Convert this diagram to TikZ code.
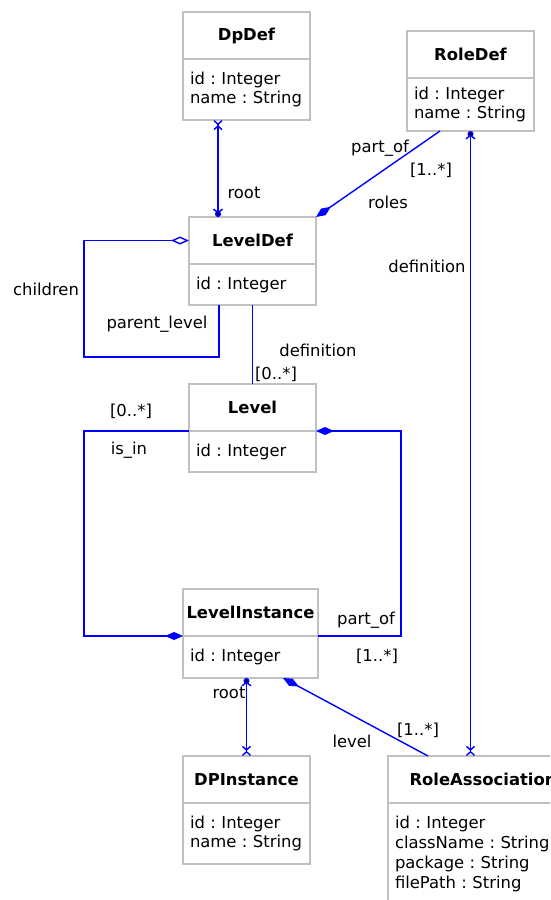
\documentclass[tikz,border=0pt]{standalone}
\usepackage{fontspec}
\setmainfont{DejaVu Sans}
\usetikzlibrary{positioning,arrows.meta,calc}

\definecolor{boxgray}{RGB}{192,192,192}
\newcommand{\umlfont}{\fontsize{16.4}{19.8}\selectfont\frenchspacing}

\tikzset{
  classname/.style={draw=boxgray, line width=1.2pt, outer sep=0pt, minimum width=127pt,
    minimum height=47pt, inner sep=0pt, font=\umlfont\bfseries},
  classattr/.style={draw=boxgray, line width=1.2pt, outer sep=0pt, text width=113pt,
    inner xsep=7pt, inner ysep=0pt, align=left, font=\umlfont},
  assoc/.style={draw=blue, line width=1.4pt},
  lbl/.style={inner sep=0pt, font=\umlfont},
  navx/.tip={Straight Barb[length=3.5pt,width=8pt,sep=0pt] Straight Barb[reversed,length=3.5pt,width=8pt]},
  owner/.tip={Straight Barb[length=3.5pt,width=9pt,sep=-2.5pt] Circle[length=6pt,fill=black]},
  comp/.tip={Diamond[length=18pt,width=8pt]},
  aggr/.tip={Diamond[open,length=18pt,width=8pt,fill=white]},
}

\begin{document}
\begin{tikzpicture}[x=1pt,y=-1pt]
\useasboundingbox (0,0) rectangle (550,900);
\clip (0,0) rectangle (550,900);

% classes
\node[classname] (dpdef) at (246.5,35.5) {DpDef};
\node[classattr, minimum height=61pt, below=0pt of dpdef] (dpdef-a) {id : Integer\\name : String};

\node[classname] (roledef) at (470.5,54.5) {RoleDef};
\node[classattr, minimum height=53pt, below=0pt of roledef] (roledef-a) {id : Integer\\name : String};

\node[classname] (ldef) at (252.5,240.5) {LevelDef};
\node[classattr, minimum height=41pt, below=0pt of ldef] (ldef-a) {id : Integer};

\node[classname] (level) at (252.5,407.5) {Level};
\node[classattr, minimum height=41pt, below=0pt of level] (level-a) {id : Integer};

\node[classname, minimum width=135pt] (linst) at (250.5,612.5) {LevelInstance};
\node[classattr, text width=121pt, minimum height=42pt, below=0pt of linst] (linst-a) {id : Integer};

\node[classname] (dpinst) at (246.5,779.5) {DPInstance};
\node[classattr, minimum height=61pt, below=0pt of dpinst] (dpinst-a) {id : Integer\\name : String};

\node[classname, minimum width=190pt] (roleas) at (483,779.5) {RoleAssociation};
\node[classattr, text width=176pt, minimum height=102pt, below=0pt of roleas] (roleas-a)
  {id : Integer\\className : String\\package : String\\filePath : String};

% associations
\draw[assoc, navx-owner] ($(dpdef-a.south west)+(35,0)$) -- ($(ldef.north west)+(29,0)$);
\draw[assoc, -comp] ($(roledef-a.south west)+(33,0)$) -- (ldef.north east);
\draw[assoc, aggr-] (ldef.west) -- ++(-105,0) -- ++(0,116.5) -| ($(ldef-a.south west)+(30,0)$);
\draw[assoc] (ldef-a.south) -- (level.north);
\draw[assoc, owner-navx] (roledef-a.south) -- (roledef-a.south |- roleas.north);
\draw[assoc, -comp] (level.south west) -- ++(-105,0) |- (linst.south west);
\draw[assoc, -comp] (linst.south east) -- ++(83,0) |- (level.south east);
\draw[assoc, owner-navx] (dpinst.north |- linst-a.south) -- (dpinst.north);
\draw[assoc, comp-] ($(linst-a.south west)+(100,0)$) -- ($(roleas.north west)+(40,0)$);

% role names and multiplicities
\node[lbl] (l-root) at (244,193) {root};
\node[lbl] (l-partof) at (380,148) {part\_of};
\node[lbl] (l-roles-m) at (431,170) {[1..*]};
\node[lbl] (l-roles) at (388,202) {roles};
\node[lbl] (l-children) at (46,289) {children};
\node[lbl] (l-parent) at (157,324) {parent\_level};
\node[lbl] (l-def) at (318,350) {definition};
\node[lbl] (l-def-m) at (276,374) {[0..*]};
\node[lbl] (l-def2) at (427,266) {definition};
\node[lbl] (l-isin-m) at (131,411) {[0..*]};
\node[lbl] (l-isin) at (129,450) {is\_in};
\node[lbl] (l-partof2) at (366,620) {part\_of};
\node[lbl] (l-partof2-m) at (377,656) {[1..*]};
\node[lbl] (l-root2) at (229,693) {root};
\node[lbl] (l-level-m) at (418,730) {[1..*]};
\node[lbl] (l-level) at (352,741) {level};
\end{tikzpicture}
\end{document}
